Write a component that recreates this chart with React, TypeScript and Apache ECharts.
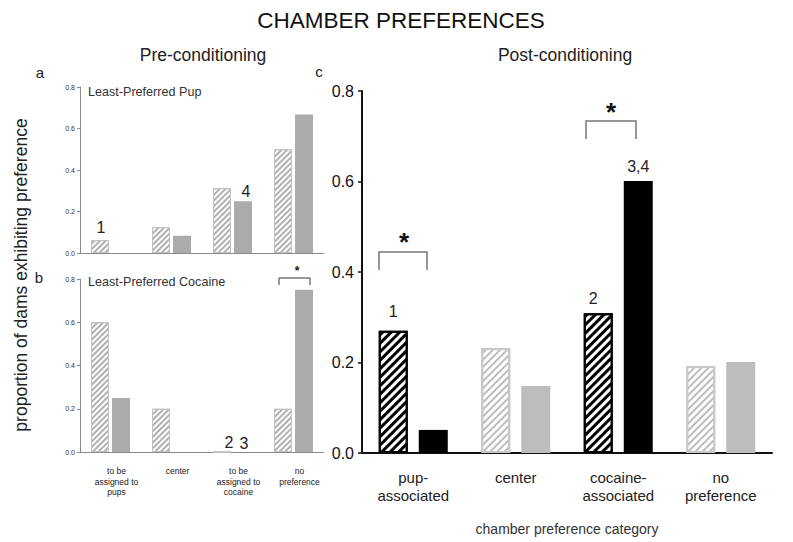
import React, { useEffect, useRef } from 'react';
import * as echarts from 'echarts';

const preCategories = ['to be\nassigned to\npups', 'center', 'to be\nassigned to\ncocaine', 'no\npreference'];
const postCategories = ['pup-\nassociated', 'center', 'cocaine-\nassociated', 'no\npreference'];
const yTicks = [0, 0.2, 0.4, 0.6, 0.8];

const pupHatched = [0.0625, 0.125, 0.3125, 0.5];
const pupSolid = [0, 0.083, 0.25, 0.667];
const cocaineHatched = [0.6, 0.2, 0, 0.2];
const cocaineSolid = [0.25, 0, 0, 0.75];
const postHatched = [0.27, 0.232, 0.309, 0.192];
const postSolid = [0.051, 0.148, 0.601, 0.201];
const postDark = [true, false, true, false];

const pupHatchedNotes = ['1', '', '', ''];
const pupSolidNotes = ['', '', '4', ''];
const cocaineHatchedNotes = ['', '', '2', ''];
const cocaineSolidNotes = ['', '', '3', ''];
const postHatchedNotes = ['1', '', '2', ''];
const postSolidNotes = ['', '', '3,4', ''];

const FONT = '"Liberation Sans", Arial, Helvetica, sans-serif';

function leftHatchDecal() {
  return {
    symbol: 'rect',
    symbolSize: 1,
    dashArrayX: [1, 0],
    dashArrayY: [1.1, 1.8],
    rotation: -Math.PI / 4,
    color: '#b0b0b0',
  };
}
function rightHatchDecal(dark: boolean) {
  return {
    symbol: 'rect',
    symbolSize: 1,
    dashArrayX: [1, 0],
    dashArrayY: dark ? [2.6, 2.4] : [2, 3],
    rotation: -Math.PI / 4,
    color: dark ? '#000' : '#bdbdbd',
  };
}

function noteLabel(text: string, fontSize: number, dx: number, dist: number) {
  return {
    show: text !== '',
    formatter: text,
    position: 'top',
    distance: dist,
    offset: [dx, 0],
    fontSize,
    color: '#222',
    fontFamily: FONT,
  };
}

export default function App() {
  const ref = useRef<HTMLDivElement>(null);
  useEffect(() => {
    if (!ref.current) return;
    const chart = echarts.init(ref.current, null, { renderer: 'svg' });

    const leftY = (gridIndex: number) => ({
      type: 'value',
      gridIndex,
      min: yTicks[0],
      max: yTicks[yTicks.length - 1],
      interval: 0.2,
      splitLine: { show: false },
      axisLine: { show: true, lineStyle: { color: '#8a8a8a', width: 1 } },
      axisTick: { show: true, length: 3, lineStyle: { color: '#8a8a8a' } },
      axisLabel: {
        fontSize: 7,
        color: '#333',
        margin: 5,
        fontFamily: FONT,
        formatter: (v: number) => v.toFixed(1),
      },
    });

    const leftHatchItem = (v: number, note: string, dx: number, dist: number) => ({
      value: v,
      itemStyle: { color: '#fff', borderColor: '#c2c2c2', borderWidth: 1, decal: leftHatchDecal() },
      label: noteLabel(note, 16, dx, dist),
    });
    const leftSolidItem = (v: number, note: string, dx: number, dist: number) => ({
      value: v,
      itemStyle: { color: '#ababab', borderWidth: 0 },
      label: noteLabel(note, 16, dx, dist),
    });

    const option: any = {
      animation: false,
      backgroundColor: '#fff',
      textStyle: { fontFamily: FONT },
      grid: [
        { left: 80, top: 87, width: 244, height: 166 },
        { left: 80, top: 279, width: 244, height: 173 },
        { left: 362, top: 91, width: 410, height: 362 },
      ],
      xAxis: [
        {
          type: 'category',
          gridIndex: 0,
          data: preCategories,
          axisLine: { lineStyle: { color: '#8a8a8a' } },
          axisTick: { alignWithLabel: true, length: 3, lineStyle: { color: '#8a8a8a' } },
          axisLabel: { show: false },
        },
        {
          type: 'category',
          gridIndex: 1,
          data: preCategories,
          axisLine: { lineStyle: { color: '#8a8a8a' } },
          axisTick: { alignWithLabel: true, length: 3, lineStyle: { color: '#8a8a8a' } },
          axisLabel: {
            fontSize: 8.5,
            lineHeight: 10.5,
            margin: 14,
            color: '#222',
            fontFamily: FONT,
            interval: 0,
            padding: [0, 0, 0, 12],
          },
        },
        {
          type: 'category',
          gridIndex: 2,
          data: postCategories,
          axisLine: { lineStyle: { color: '#111', width: 2 } },
          axisTick: { alignWithLabel: true, length: 5, lineStyle: { color: '#111', width: 1.5 } },
          axisLabel: { fontSize: 15, lineHeight: 18, margin: 15, color: '#222', fontFamily: FONT, interval: 0 },
          name: 'chamber preference category',
          nameLocation: 'middle',
          nameGap: 69,
          nameTextStyle: { fontSize: 14, color: '#333', fontFamily: FONT },
        },
      ],
      yAxis: [
        leftY(0),
        leftY(1),
        {
          type: 'value',
          gridIndex: 2,
          min: yTicks[0],
          max: yTicks[yTicks.length - 1],
          interval: 0.2,
          splitLine: { show: false },
          axisLine: { show: true, lineStyle: { color: '#111', width: 2 } },
          axisTick: { show: true, length: 4, lineStyle: { color: '#111', width: 1.5 } },
          axisLabel: {
            fontSize: 16,
            color: '#111',
            margin: 8,
            fontFamily: FONT,
            formatter: (v: number) => v.toFixed(1),
          },
        },
      ],
      series: [
        {
          type: 'bar',
          xAxisIndex: 0,
          yAxisIndex: 0,
          barWidth: 18,
          barGap: '17%',
          data: pupHatched.map((v, i) => leftHatchItem(v, pupHatchedNotes[i], 1, 5)),
        },
        {
          type: 'bar',
          xAxisIndex: 0,
          yAxisIndex: 0,
          barWidth: 18,
          barGap: '17%',
          data: pupSolid.map((v, i) => leftSolidItem(v, pupSolidNotes[i], 3, 2)),
        },
        {
          type: 'bar',
          xAxisIndex: 1,
          yAxisIndex: 1,
          barWidth: 18,
          barGap: '17%',
          data: cocaineHatched.map((v, i) => leftHatchItem(v, cocaineHatchedNotes[i], 7, 1)),
        },
        {
          type: 'bar',
          xAxisIndex: 1,
          yAxisIndex: 1,
          barWidth: 18,
          barGap: '17%',
          data: cocaineSolid.map((v, i) => leftSolidItem(v, cocaineSolidNotes[i], 1, 1)),
        },
        {
          type: 'bar',
          xAxisIndex: 2,
          yAxisIndex: 2,
          barWidth: 29,
          barGap: '38%',
          data: postHatched.map((v, i) => ({
            value: v,
            itemStyle: {
              color: '#fff',
              borderColor: postDark[i] ? '#000' : '#c8c8c8',
              borderWidth: 2,
              decal: rightHatchDecal(postDark[i]),
            },
            label: noteLabel(postHatchedNotes[i], 16, i === 2 ? -5 : 0, i === 0 ? 11 : 7),
          })),
        },
        {
          type: 'bar',
          xAxisIndex: 2,
          yAxisIndex: 2,
          barWidth: 29,
          barGap: '38%',
          data: postSolid.map((v, i) => ({
            value: v,
            itemStyle: { color: postDark[i] ? '#000' : '#bdbdbd' },
            label: noteLabel(postSolidNotes[i], 16, 0, 7),
          })),
        },
      ],
      graphic: [
        { type: 'text', x: 401, y: 20, style: { text: 'CHAMBER PREFERENCES', font: `22.5px ${FONT}`, fill: '#111', textAlign: 'center', textVerticalAlign: 'middle' } },
        { type: 'text', x: 203, y: 55, style: { text: 'Pre-conditioning', font: `17.5px ${FONT}`, fill: '#222', textAlign: 'center', textVerticalAlign: 'middle' } },
        { type: 'text', x: 565, y: 55, style: { text: 'Post-conditioning', font: `17.5px ${FONT}`, fill: '#222', textAlign: 'center', textVerticalAlign: 'middle' } },
        { type: 'text', x: 21, y: 275, rotation: Math.PI / 2, style: { text: 'proportion of dams exhibiting preference', font: `17.5px ${FONT}`, fill: '#222', textAlign: 'center', textVerticalAlign: 'middle' } },
        { type: 'text', x: 40, y: 72, style: { text: 'a', font: `15px ${FONT}`, fill: '#222', textAlign: 'center', textVerticalAlign: 'middle' } },
        { type: 'text', x: 39, y: 277, style: { text: 'b', font: `15px ${FONT}`, fill: '#222', textAlign: 'center', textVerticalAlign: 'middle' } },
        { type: 'text', x: 319, y: 71, style: { text: 'c', font: `15px ${FONT}`, fill: '#222', textAlign: 'center', textVerticalAlign: 'middle' } },
        { type: 'text', x: 88, y: 92, style: { text: 'Least-Preferred Pup', font: `12.6px ${FONT}`, fill: '#333', textAlign: 'left', textVerticalAlign: 'middle' } },
        { type: 'text', x: 88, y: 282, style: { text: 'Least-Preferred Cocaine', font: `12.6px ${FONT}`, fill: '#333', textAlign: 'left', textVerticalAlign: 'middle' } },
        { type: 'polyline', shape: { points: [[279, 285], [279, 278], [310, 278], [310, 285]] }, style: { stroke: '#333', lineWidth: 1, fill: null } },
        { type: 'text', x: 297, y: 271, style: { text: '*', font: `bold 12px ${FONT}`, fill: '#111', textAlign: 'center', textVerticalAlign: 'middle' } },
        { type: 'polyline', shape: { points: [[379, 270], [379, 252], [427, 252], [427, 270]] }, style: { stroke: '#777', lineWidth: 1.5, fill: null } },
        { type: 'text', x: 404, y: 242, style: { text: '*', font: `bold 26px ${FONT}`, fill: '#111', textAlign: 'center', textVerticalAlign: 'middle' } },
        { type: 'polyline', shape: { points: [[586, 139], [586, 121], [636, 121], [636, 139]] }, style: { stroke: '#777', lineWidth: 1.5, fill: null } },
        { type: 'text', x: 611, y: 112, style: { text: '*', font: `bold 26px ${FONT}`, fill: '#111', textAlign: 'center', textVerticalAlign: 'middle' } },
      ],
    };

    chart.setOption(option);
    return () => chart.dispose();
  }, []);

  return (
    <div
      ref={ref}
      style={{ position: 'absolute', left: 0, top: 0, width: 793, height: 542, background: '#fff' }}
    />
  );
}
